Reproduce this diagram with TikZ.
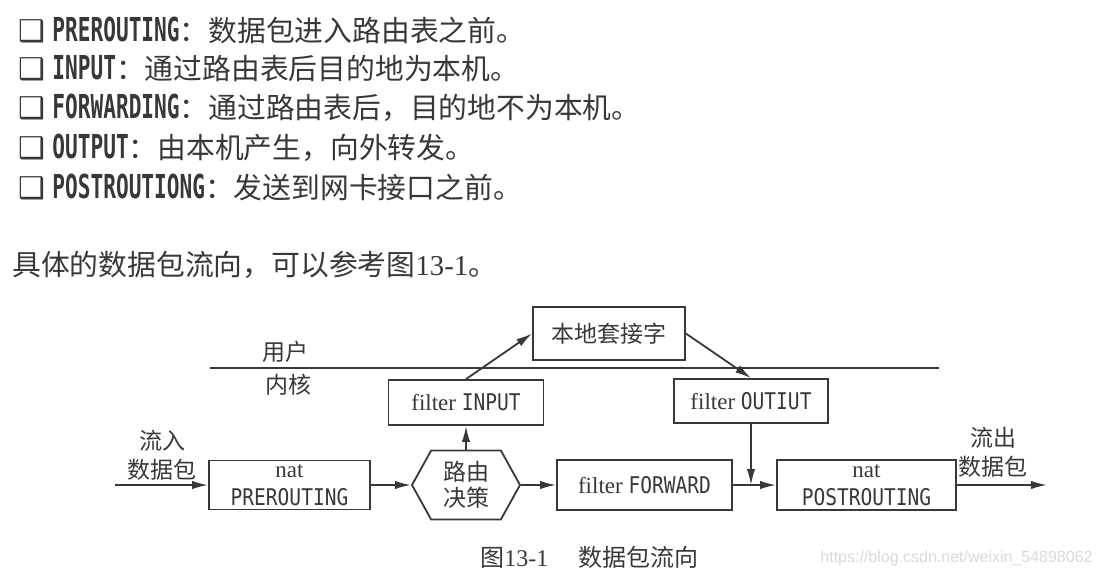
\documentclass[tikz,border=0pt]{standalone}
\usepackage{fontspec}
\setmainfont{Liberation Serif}
\newfontfamily\cjk{Noto Sans CJK SC}
\newfontfamily\termfont[FakeStretch=0.64]{DejaVu Sans Mono}
\newfontfamily\boxmono[FakeStretch=0.85]{DejaVu Sans Mono}
\newfontfamily\symfont{DejaVu Sans}
\newfontfamily\wmfont{Liberation Sans}
\usetikzlibrary{arrows.meta,shapes.symbols}

\definecolor{ink}{HTML}{383838}
\newcommand{\zh}[1]{{\cjk #1}}
\newcommand{\term}[1]{{\termfont\bfseries\fontsize{16.5}{16.5}\selectfont #1}}
\newcommand{\boxbullet}{{\symfont\fontsize{15}{15}\selectfont ❑}}

\tikzset{
	item/.style = {anchor=base west, inner sep=0pt, text=ink, font=\fontsize{14.4}{17}\selectfont},
	box/.style = {draw=ink, line width=0.9pt, inner sep=0pt, text=ink, align=center, font=\fontsize{11.5}{14}\selectfont},
	tag/.style = {inner sep=0pt, text=ink, align=center, font=\fontsize{11.5}{14.5}\selectfont},
	flow/.style = {draw=ink, line width=0.9pt, -{Latex[length=8pt,width=4.2pt]}},
}

\begin{document}
\begin{tikzpicture}[x=0.5pt,y=-0.5pt]
	\useasboundingbox (0,0) rectangle (1099,574);
	% the five chains
	\node[item] (l1) at (18,41) {\boxbullet\ \term{PREROUTING}\zh{：数据包进入路由表之前。}};
	\node[item] (l2) at (18,79) {\boxbullet\ \term{INPUT}\zh{：通过路由表后目的地为本机。}};
	\node[item] (l3) at (18,118) {\boxbullet\ \term{FORWARDING}\zh{：通过路由表后，目的地不为本机。}};
	\node[item] (l4) at (18,158) {\boxbullet\ \term{OUTPUT}\zh{：由本机产生，向外转发。}};
	\node[item] (l5) at (18,198) {\boxbullet\ \term{POSTROUTIONG}\zh{：发送到网卡接口之前。}};
	\node[item] (l6) at (12,275) {\zh{具体的数据包流向，可以参考图}13-1\zh{。}};

	% user / kernel
	\coordinate (ul) at (210,368);
	\coordinate (ur) at (939,368);
	\draw[ink, line width=0.9pt] (ul) -- (ur);
	\node[tag] (user) at (285,352) {\zh{用户}};
	\node[tag] (kernel) at (288,385) {\zh{内核}};

	\node[box, minimum width=80.5pt, minimum height=24.5pt] (pre) at (289.5,485) {nat\\{\boxmono PREROUTING}};
	\node[box, signal, signal to=west and east, signal pointer angle=122,
		minimum width=54pt, minimum height=34.5pt, font=\fontsize{11.5}{13}\selectfont] (route) at (466,485) {\zh{路由}\\\zh{决策}};
	\node[box, minimum width=77.5pt, minimum height=22.5pt] (input) at (466,402.5) {filter {\boxmono INPUT}};
	\node[box, minimum width=76pt, minimum height=26.5pt] (sock) at (609,333.5) {\zh{本地套接字}};
	\node[box, minimum width=77pt, minimum height=22pt] (output) at (751,401) {filter {\boxmono OUTIUT}};
	\node[box, minimum width=87.5pt, minimum height=25pt] (fwd) at (644.5,485) {filter {\boxmono FORWARD}};
	\node[box, minimum width=89.5pt, minimum height=25pt] (post) at (866.5,485) {nat\\{\boxmono POSTROUTING}};

	\coordinate (src) at (115,485);
	\coordinate (dst) at (1047,485);
	\node[tag] (inlbl) at (162,455) {\zh{流入}\\\zh{数据包}};
	\node[tag] (outlbl) at (993,452) {\zh{流出}\\\zh{数据包}};

	\draw[flow] (src) -- (pre.west);
	\draw[flow] (pre.east) -- (route.west);
	\draw[flow] (route.north) -- (input.south);
	\draw[flow] (input.north) -- (sock.west);
	\draw[flow] (sock.east) -- (output.north);
	\draw[flow] (route.east) -- (fwd.west);
	\draw[flow] (fwd.east) -- (post.west);
	\draw[flow] (output.south) -- (output.south |- post.west);
	\draw[flow] (post.east) -- (dst);

	% caption
	\node[item, font=\fontsize{12}{14}\selectfont] (cap) at (480,566) {\zh{图}13-1\hspace{15pt}\zh{数据包流向}};
	\node[anchor=base west, inner sep=0pt, text=black!15, font=\wmfont\fontsize{8}{8}\selectfont] (wm) at (820,562) {https://blog.csdn.net/weixin\_54898062};
\end{tikzpicture}
\end{document}
